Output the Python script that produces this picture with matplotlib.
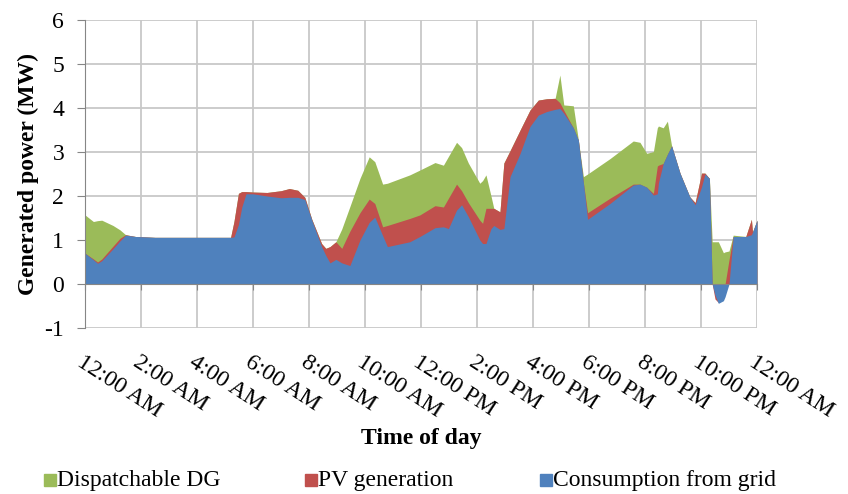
import numpy as np
import matplotlib.pyplot as plt
from matplotlib.lines import Line2D

plt.rcParams['font.family'] = ['Liberation Serif', 'DejaVu Serif']
plt.rcParams['axes.unicode_minus'] = False

# hour of day and the top edge of each (overlapping) area, in MW
hours = [0.00, 0.30, 0.45, 0.60, 1.00, 1.25, 1.45, 1.80, 2.50, 5.20,
         5.32, 5.48, 5.60, 5.75, 6.00, 6.50, 7.00, 7.30, 7.60, 7.85,
         8.10, 8.45, 8.60, 8.75, 8.96, 9.17, 9.46, 9.82, 10.15, 10.35,
         10.63, 10.80, 11.60, 11.96, 12.50, 12.80, 12.98, 13.27, 13.45, 13.69,
         14.10, 14.20, 14.32, 14.50, 14.60, 14.82, 14.96, 15.18, 15.54, 15.89,
         16.19, 16.49, 16.79, 16.96, 17.10, 17.44, 17.62, 17.80, 17.95, 18.75,
         19.58, 19.82, 20.06, 20.30, 20.44, 20.48, 20.65, 20.80, 20.95, 21.25,
         21.60, 21.79, 22.02, 22.14, 22.30, 22.40, 22.50, 22.62, 22.80, 22.86,
         23.00, 23.15, 23.60, 23.80, 23.84, 24.00]

grid_power = [0.70, 0.55, 0.47, 0.53, 0.80, 0.98, 1.11, 1.08, 1.06, 1.06,
              1.07, 1.35, 1.75, 2.05, 2.05, 2.00, 1.96, 1.97, 1.97, 1.92,
              1.45, 0.85, 0.65, 0.48, 0.56, 0.48, 0.42, 1.00, 1.40, 1.52,
              1.10, 0.85, 0.96, 1.08, 1.28, 1.30, 1.26, 1.68, 1.80, 1.53,
              1.00, 0.92, 0.92, 1.26, 1.33, 1.24, 1.26, 2.44, 2.97, 3.58,
              3.84, 3.92, 3.97, 3.99, 3.88, 3.55, 3.27, 2.30, 1.47, 1.83,
              2.25, 2.27, 2.20, 2.02, 2.05, 2.30, 2.74, 2.95, 3.14, 2.52,
              1.98, 1.80, 2.21, 2.50, 2.40, 0.00, -0.25, -0.44, -0.38, -0.29,
              0.00, 1.08, 1.08, 1.12, 1.18, 1.45]

grid_plus_pv = [0.70, 0.57, 0.50, 0.57, 0.86, 1.04, 1.12, 1.08, 1.06, 1.06,
                1.42, 2.06, 2.10, 2.10, 2.09, 2.08, 2.12, 2.17, 2.13, 1.97,
                1.47, 0.92, 0.81, 0.85, 0.96, 0.81, 1.20, 1.62, 1.93, 1.83,
                1.30, 1.33, 1.49, 1.57, 1.78, 1.75, 1.95, 2.27, 2.12, 1.85,
                1.45, 1.38, 1.72, 1.72, 1.72, 1.64, 2.75, 3.03, 3.50, 3.95,
                4.18, 4.21, 4.22, 4.12, 3.95, 3.55, 3.27, 2.30, 1.62, 1.95,
                2.27, 2.27, 2.20, 2.06, 2.68, 2.70, 2.74, 2.95, 3.14, 2.52,
                1.98, 1.85, 2.52, 2.52, 2.40, 0.00, -0.34, -0.42, -0.10, 0.00,
                0.55, 1.08, 1.08, 1.47, 1.18, 1.45]

total_power = [1.57, 1.42, 1.44, 1.45, 1.33, 1.23, 1.12, 1.08, 1.06, 1.06,
               1.42, 2.06, 2.10, 2.10, 2.09, 2.08, 2.12, 2.17, 2.13, 1.97,
               1.47, 0.92, 0.81, 0.85, 0.96, 1.25, 1.76, 2.40, 2.89, 2.78,
               2.27, 2.29, 2.48, 2.59, 2.76, 2.70, 2.90, 3.22, 3.10, 2.75,
               2.29, 2.35, 2.48, 2.00, 1.72, 1.64, 2.75, 3.03, 3.50, 3.95,
               4.18, 4.21, 4.22, 4.75, 4.07, 4.05, 3.27, 2.44, 2.50, 2.85,
               3.25, 3.22, 2.97, 3.01, 3.55, 3.59, 3.55, 3.70, 3.14, 2.52,
               1.98, 1.85, 2.52, 2.52, 2.40, 0.96, 0.96, 0.96, 0.71, 0.73,
               0.75, 1.11, 1.08, 1.47, 1.18, 1.45]

tick_hours = list(range(0, 25, 2))
tick_labels = ['12:00 AM', '2:00 AM', '4:00 AM', '6:00 AM', '8:00 AM', '10:00 AM',
               '12:00 PM', '2:00 PM', '4:00 PM', '6:00 PM', '8:00 PM', '10:00 PM',
               '12:00 AM']
series_names = ['Dispatchable DG', 'PV generation', 'Consumption from grid']

green = '#9BBB59'
red = '#C0504D'
blue = '#4F81BD'

fig = plt.figure(figsize=(8.48, 4.94), dpi=100)
ax = fig.add_axes([85 / 848, 1 - 328 / 494, 672 / 848, 308 / 494])

# spine setup first: moving a spine resets the ticks
for s in ['top', 'right']:
    ax.spines[s].set_visible(False)
ax.spines['bottom'].set_position(('data', 0))
ax.spines['bottom'].set_color('#868686')
ax.spines['left'].set_color('#868686')
ax.spines['bottom'].set_zorder(3)

ax.fill_between(hours, 0, total_power, color=green, lw=0)
ax.fill_between(hours, 0, grid_plus_pv, color=red, lw=0)
ax.fill_between(hours, 0, grid_power, color=blue, lw=0)

ax.set_xlim(0, 24)
ax.set_ylim(-1, 6)
ax.set_yticks(range(-1, 7))
ax.set_xticks(tick_hours)
ax.tick_params(axis='y', labelsize=17, length=6, color='#868686', pad=9)
ax.tick_params(axis='x', labelsize=17, length=4, color='#868686', pad=45)
ax.set_xticklabels(tick_labels, rotation=-33, rotation_mode='anchor',
                   ha='left', va='top')

ax.grid(True, color='#c8c8c8', lw=1.3)
ax.set_axisbelow(True)

ax.set_ylabel('Generated power (MW)', fontsize=17, fontweight='bold', labelpad=4)
fig.text(421 / 848, 1 - 438 / 494, 'Time of day', fontsize=17, fontweight='bold',
         ha='center', va='center')

# legend entries laid out like the original
legend_x = [50, 311, 546]
for x, c, name in zip(legend_x, (green, red, blue), series_names):
    fig.add_artist(Line2D([x / 848], [1 - 480 / 494], transform=fig.transFigure,
                          marker='s', ls='', color=c, markersize=8))
    fig.text((x + 7) / 848, 1 - 480 / 494, name, fontsize=17, ha='left', va='center')

fig.savefig('out.png', dpi=100)
